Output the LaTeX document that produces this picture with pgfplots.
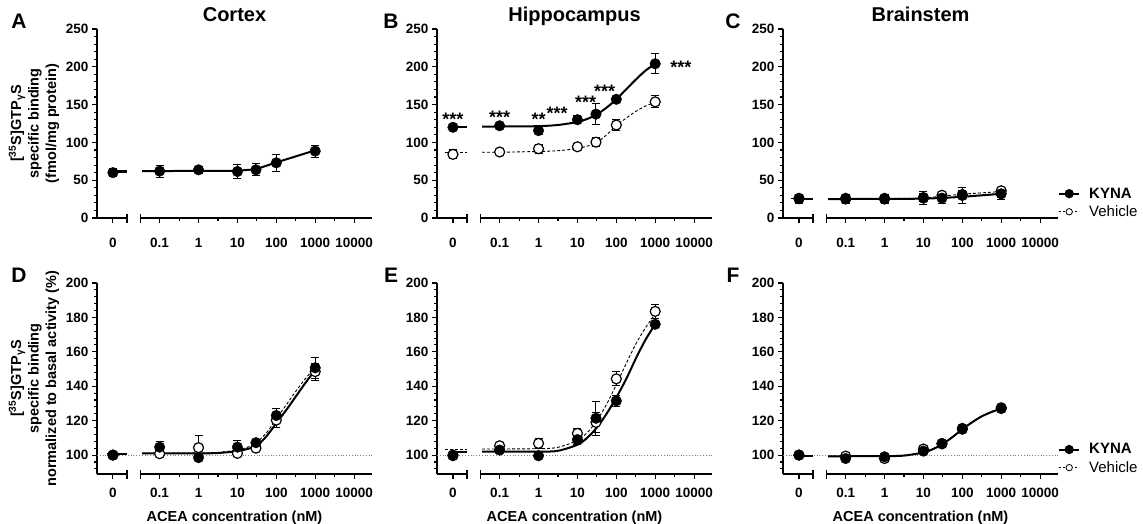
\documentclass[border=0pt]{standalone}
\usepackage{pgfplots}
\pgfplotsset{compat=1.18}
\usepackage{fontspec}
\setmainfont{Liberation Sans}
\newcommand{\fs}[1]{\fontsize{#1}{#1}\selectfont}

\pgfplotsset{
  panel/.style={
    scale only axis, width=275pt,
    xmin=-2.61, xmax=4.46,
    axis y line*=left, axis x line*=bottom,
    x axis line style={draw=none},
    y axis line style={line width=1.1pt},
    tick style={black, line width=1.1pt},
    tick align=outside,
    major tick length=5pt, minor tick length=3pt,
    xtick={-2.2,-1,0,1,2,3,4},
    xticklabels={0,0.1,1,10,100,1000,10000},
    minor xtick={-0.5,0.5,1.5,2.5,3.5},
    /pgf/number format/assume math mode=true,
    tick label style={font=\bfseries\fs{13.5}},
    ylabel style={align=center, font=\bfseries\fontsize{14.5}{17.5}\selectfont},
    title style={font=\bfseries\fs{20}, at={(axis description cs:0.5,1)}, anchor=base, yshift=1pt},
    xlabel style={font=\bfseries\fs{14.5}, at={(axis description cs:0.5,0)}, anchor=base, yshift=-48pt},
    clip=false,
  },
  toprow/.style={panel, height=189pt, ymin=0, ymax=250,
    ytick={0,50,...,250}, minor ytick={10,20,...,240},
    xticklabel style={yshift=-12pt}},
  botrow/.style={panel, height=191pt, ymin=89, ymax=200,
    ytick={100,120,...,200}, minor ytick={92,96,...,196},
    xticklabel style={yshift=-6pt},
    xlabel={ACEA concentration (nM)}},
  kyna/.style={only marks, mark=*, mark size=5.3pt, black,
    error bars/.cd, y dir=both, y explicit,
    error bar style={line width=1pt, black},
    error mark options={rotate=90, mark size=4pt, line width=1pt, black}},
  veh/.style={only marks, mark=*, mark size=5pt, black,
    mark options={fill=white, line width=1.2pt},
    error bars/.cd, y dir=both, y explicit,
    error bar style={line width=1pt, black},
    error mark options={rotate=90, mark size=4pt, line width=1pt, black}},
  kline/.style={black, line width=2pt, no marks},
  vline/.style={black, line width=0.9pt, dash pattern=on 3pt off 2pt, no marks},
  base100/.style={gray, line width=0.8pt, dotted, no marks},
  keylegend/.style={
    legend style={at={(axis description cs:1,0.08)}, anchor=west, draw=none, fill=none,
      font=\fs{15}, legend cell align=left, row sep=2pt, inner sep=0pt},
    legend image code/.code={\draw[mark repeat=2,mark phase=2,##1]
      plot coordinates {(0pt,0pt) (10pt,0pt) (20pt,0pt)};}},
}

% broken x axis: a short piece for 0 (ends at x=-1.84), then the log part (from x=-1.49)
\newcommand{\xbreak}{%
  \draw[line width=1.1pt] (rel axis cs:0,0) -- (rel axis cs:0.10891,0);
  \draw[line width=1.1pt] ([yshift=4pt]rel axis cs:0.10891,0) -- ([yshift=-5pt]rel axis cs:0.10891,0);
  \draw[line width=1.1pt] (rel axis cs:0.15842,0) -- (rel axis cs:1,0);
  \draw[line width=1.1pt] ([yshift=4pt]rel axis cs:0.15842,0) -- ([yshift=-5pt]rel axis cs:0.15842,0);
}
\newcommand{\keyimages}{%
  \addlegendimage{black, line width=2pt, mark=*, mark size=3.6pt}
  \addlegendimage{black, line width=0.8pt, dash pattern=on 2pt off 2pt, mark=*, mark size=3.2pt,
    mark options={solid, fill=white, line width=0.8pt}}
}

\begin{document}
\begin{tikzpicture}
\path[use as bounding box] (0,0) rectangle (1143pt,524pt);

% ---------- A: Cortex
\begin{axis}[toprow, at={(97pt,306pt)}, anchor=south west, title={Cortex},
  ylabel={[\textsuperscript{35}S]GTP\textsubscript{γ}S\\specific binding\\(fmol/mg protein)}]
\addplot[kline] coordinates {(-2.32,61.5) (-1.84,61.5)};
\addplot[kline] coordinates {(-1.45,62) (1,62.5) (1.477,64.5) (2,73.5) (3,89.5)};
\addplot[kyna] coordinates {
  (-2.2,60) +- (0,5.5)
  (-1,62) +- (0,8)
  (0,63.7) +- (0,5)
  (1,61.5) +- (0,9)
  (1.477,63.7) +- (0,8)
  (2,73) +- (0,11)
  (3,88.5) +- (0,8)
};
\xbreak
\end{axis}

% ---------- B: Hippocampus
\begin{axis}[toprow, at={(437pt,306pt)}, anchor=south west, title={Hippocampus}]
\addplot[vline] coordinates {(-2.4,87) (-1.84,87)};
\addplot[vline, smooth] coordinates {(-1.45,87) (-1,87) (0,88) (0.5,89) (1,92) (1.25,95) (1.5,100)
  (1.75,110) (2,122) (2.25,132) (2.5,141) (2.75,148) (3,153)};
\addplot[kline] coordinates {(-2.3,120.5) (-1.84,120.5)};
\addplot[kline, smooth] coordinates {(-1.45,121) (-1,121) (-0.5,121.2) (0,121.5) (0.5,123) (1,127)
  (1.25,131) (1.5,137) (1.75,146) (2,157) (2.25,170) (2.5,183) (2.75,195) (3,204)};
\addplot[veh] coordinates {
  (-2.2,84.2) +- (0,6)
  (-1,87.3) +- (0,4)
  (0,91.6) +- (0,6)
  (1,94.2) +- (0,2)
  (1.477,100.3) +- (0,6)
  (2,123) +- (0,7)
  (3,153.6) +- (0,8)
};
\addplot[kyna] coordinates {
  (-2.2,120) +- (0,2)
  (-1,122) +- (0,2)
  (0,115.6) +- (0,5)
  (1,130) +- (0,5)
  (1.477,137.4) +- (0,14)
  (2,157) +- (0,2)
  (3,204) +- (0,13)
};
\begin{scope}[every node/.style={font=\bfseries\fs{18}}]
\node at (axis cs:-2.2,130) {***};
\node at (axis cs:-1,133) {***};
\node at (axis cs:0,130) {**};
\node at (axis cs:0.48,139) {***};
\node at (axis cs:1.21,153) {***};
\node at (axis cs:1.70,167) {***};
\node at (axis cs:3.66,199) {***};
\end{scope}
\xbreak
\end{axis}

% ---------- C: Brainstem
\begin{axis}[toprow, keylegend, at={(783pt,306pt)}, anchor=south west, title={Brainstem}]
\keyimages
\addplot[vline] coordinates {(-2.4,25.5) (-1.84,25.5)};
\addplot[vline] coordinates {(-1.45,25.5) (1,26) (1.477,29) (2,31.5) (3,35)};
\addplot[kline] coordinates {(-2.3,25) (-1.84,25)};
\addplot[kline] coordinates {(-1.45,25) (1,25.5) (1.477,26.5) (2,28) (3,32)};
\addplot[veh] coordinates {
  (-2.2,26) +- (0,4)
  (-1,26) +- (0,4)
  (0,26) +- (0,4)
  (1,27) +- (0,5)
  (1.477,30) +- (0,4)
  (2,31) +- (0,5)
  (3,36) +- (0,4)
};
\addplot[kyna] coordinates {
  (-2.2,25.4) +- (0,6)
  (-1,25) +- (0,6)
  (0,25) +- (0,6)
  (1,26.3) +- (0,9)
  (1.477,26.3) +- (0,7)
  (2,29.8) +- (0,10)
  (3,32) +- (0,8)
};
\legend{\hspace{7pt}\textbf{KYNA}, \hspace{7pt}Vehicle}
\xbreak
\end{axis}

% ---------- D
\begin{axis}[botrow, at={(97pt,50pt)}, anchor=south west,
  ylabel={[\textsuperscript{35}S]GTP\textsubscript{γ}S\\specific binding\\normalized to basal activity (\%)}]
\addplot[base100] coordinates {(-2.61,100) (4.46,100)};
\addplot[vline] coordinates {(-2.35,100.8) (-1.84,100.8)};
\addplot[vline, smooth] coordinates {(-1.45,101) (0,101.2) (0.5,101.5) (1,103) (1.25,104.5) (1.5,107.5)
  (1.75,113) (2,121) (2.25,129) (2.5,137) (2.75,144.5) (3,151)};
\addplot[kline] coordinates {(-2.3,100.5) (-1.84,100.5)};
\addplot[kline, smooth] coordinates {(-1.45,101) (0,101) (0.5,101.2) (1,102.3) (1.25,103.5) (1.5,105.5)
  (1.75,111) (2,118.5) (2.25,126) (2.5,134) (2.75,142) (3,149.5)};
\addplot[veh] coordinates {
  (-2.2,100) +- (0,0)
  (-1,100.8) +- (0,1.5)
  (0,104.3) +- (0,7)
  (1,101) +- (0,1)
  (1.477,104) +- (0,1)
  (2,120.3) +- (0,4)
  (3,148.5) +- (0,5)
};
\addplot[kyna] coordinates {
  (-2.2,100) +- (0,0)
  (-1,104.6) +- (0,3)
  (0,98.5) +- (0,1)
  (1,104.6) +- (0,4)
  (1.477,107.2) +- (0,1)
  (2,123) +- (0,4)
  (3,150.7) +- (0,6)
};
\xbreak
\end{axis}

% ---------- E
\begin{axis}[botrow, at={(437pt,50pt)}, anchor=south west]
\addplot[base100] coordinates {(-2.61,100) (4.46,100)};
\addplot[vline] coordinates {(-2.4,103.5) (-1.84,103.5)};
\addplot[vline, smooth] coordinates {(-1.45,103.5) (0,103.7) (0.5,104.5) (1,108.5) (1.25,113) (1.5,120)
  (1.75,129.5) (2,141) (2.25,153) (2.5,164.5) (2.75,174) (3,182)};
\addplot[kline] coordinates {(-2.3,102) (-1.84,102)};
\addplot[kline, smooth] coordinates {(-1.45,102) (0,102) (0.5,102.5) (1,106) (1.25,110) (1.5,116)
  (1.75,124) (2,133.5) (2.25,144) (2.5,156) (2.75,167) (3,176)};
\addplot[veh] coordinates {
  (-2.2,100) +- (0,0)
  (-1,105.4) +- (0,2)
  (0,106.8) +- (0,3)
  (1,112.6) +- (0,3)
  (1.477,119) +- (0,6)
  (2,144.3) +- (0,4)
  (3,183.5) +- (0,4)
};
\addplot[kyna] coordinates {
  (-2.2,99.6) +- (0,0)
  (-1,102.9) +- (0,1)
  (0,99.6) +- (0,1)
  (1,109) +- (0,3)
  (1.477,121.4) +- (0,10)
  (2,131.5) +- (0,3)
  (3,176) +- (0,1)
};
\xbreak
\end{axis}

% ---------- F
\begin{axis}[botrow, keylegend, at={(783pt,50pt)}, anchor=south west]
\keyimages
\addplot[base100] coordinates {(-2.61,100) (4.46,100)};
\addplot[vline] coordinates {(-2.35,99.5) (-1.84,99.5)};
\addplot[vline, smooth] coordinates {(-1.45,99.4) (0,99.5) (0.5,99.8) (1,101.8) (1.25,103.8) (1.5,106.8)
  (1.75,110.8) (2,115.2) (2.25,119.3) (2.5,122.7) (2.75,125.3) (3,127.3)};
\addplot[kline] coordinates {(-2.3,99.3) (-1.84,99.3)};
\addplot[kline, smooth] coordinates {(-1.45,99.3) (0,99.4) (0.5,99.7) (1,101.5) (1.25,103.5) (1.5,106.5)
  (1.75,110.5) (2,115) (2.25,119) (2.5,122.5) (2.75,125) (3,127)};
\addplot[veh] coordinates {
  (-2.2,100) +- (0,0)
  (-1,99.4) +- (0,1)
  (0,98) +- (0,1)
  (1,103.5) +- (0,1)
  (1.477,106.5) +- (0,1)
  (2,115.5) +- (0,1.5)
  (3,127.5) +- (0,1)
};
\addplot[kyna] coordinates {
  (-2.2,100) +- (0,0)
  (-1,98) +- (0,1)
  (0,99) +- (0,1)
  (1,102.3) +- (0,1)
  (1.477,106.8) +- (0,1)
  (2,115) +- (0,1.5)
  (3,127) +- (0,1.5)
};
\legend{\hspace{7pt}\textbf{KYNA}, \hspace{7pt}Vehicle}
\xbreak
\end{axis}

% panel letters
\begin{scope}[every node/.style={font=\bfseries\fs{21}}]
\node at (19pt,503pt) {A};
\node at (391pt,503pt) {B};
\node at (733pt,503pt) {C};
\node at (19pt,249pt) {D};
\node at (391pt,249pt) {E};
\node at (733pt,249pt) {F};
\end{scope}
\end{tikzpicture}
\end{document}
